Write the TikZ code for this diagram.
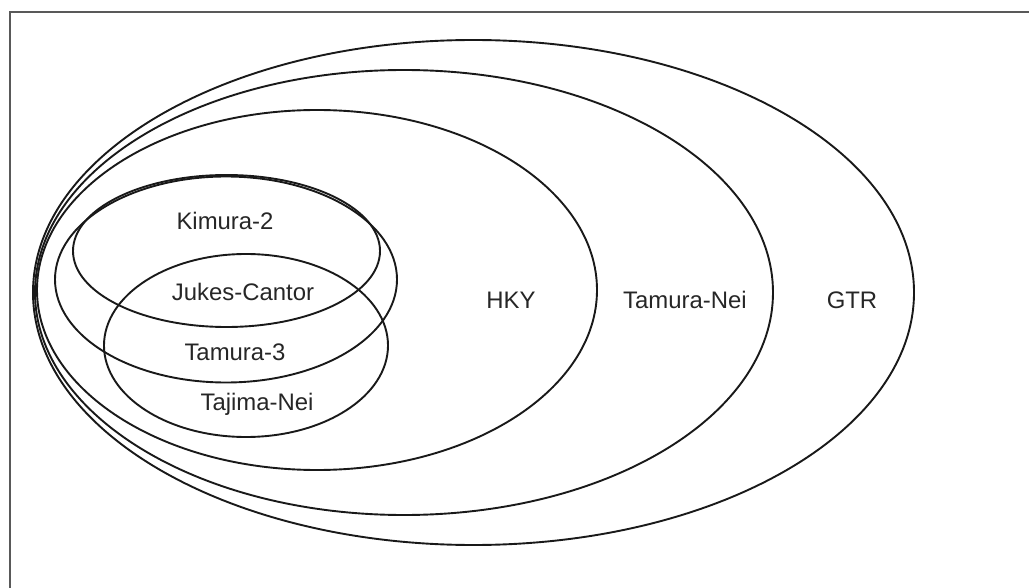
\documentclass[tikz,border=0pt]{standalone}
\usepackage{fontspec}
\setmainfont{Liberation Sans}
\begin{document}
\begin{tikzpicture}[x=1bp,y=-1bp,
  ring/.style={draw=black!90, line width=1.9bp},
  lbl/.style={font=\fontsize{24}{28}\selectfont, text=black!85, inner sep=0pt},
  frame/.style={draw=black!65, line width=2.5bp}]
\useasboundingbox (0,0) rectangle (1029,588);
\draw[frame] (10,588) -- (10,12) -- (1029,12);
% large nested ellipses
\draw[ring] (473.5,292.5) ellipse [x radius=440.5bp, y radius=252.5bp];
\draw[ring] (404,292.5) ellipse [x radius=369bp, y radius=222.5bp];
\draw[ring] (317,290) ellipse [x radius=280bp, y radius=180bp];
% small ellipses
\draw[ring] (226.5,251) ellipse [x radius=153.5bp, y radius=76bp];
\draw[ring] (226,279.5) ellipse [x radius=171bp, y radius=103bp];
\draw[ring] (246,345.5) ellipse [x radius=142bp, y radius=91.5bp];
% labels
\node[lbl] (k2) at (225,221) {Kimura-2};
\node[lbl] (jc) at (243,292) {Jukes-Cantor};
\node[lbl] (t3) at (235,352) {Tamura-3};
\node[lbl] (tj) at (257,404) {Tajima-Nei};
\node[lbl] (hky) at (511,300) {HKY};
\node[lbl] (tn) at (685,300) {Tamura-Nei};
\node[lbl] (gtr) at (852,300) {GTR};
\end{tikzpicture}
\end{document}
